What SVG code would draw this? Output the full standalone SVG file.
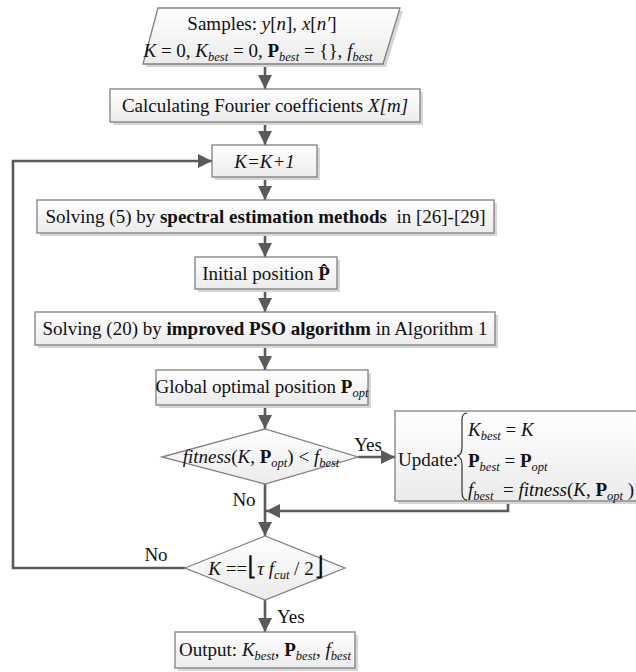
<svg xmlns="http://www.w3.org/2000/svg" width="636" height="672" viewBox="0 0 636 672">
<style>
.t{font-family:"Liberation Serif","Times New Roman",serif;font-size:19px;fill:#111}
.i{font-style:italic}
.b{font-weight:bold}
.s{font-style:italic;font-size:12.5px}
.box{fill:url(#g);stroke:#808080;stroke-width:1.3}
.sh{fill:#d6d6d6}
.c{fill:none;stroke:#5a5a5a;stroke-width:2.6}
</style>
<defs>
<linearGradient id="g" x1="0" y1="0" x2="0" y2="1">
<stop offset="0" stop-color="#ffffff"/>
<stop offset="1" stop-color="#ebebeb"/>
</linearGradient>
<marker id="a" markerUnits="userSpaceOnUse" markerWidth="15" markerHeight="14" refX="14" refY="7" orient="auto">
<path d="M0,0 L14,7 L0,14 z" fill="#5a5a5a"/>
</marker>
</defs>

<g id="connectors">
<path class="c" d="M265,64 V89" marker-end="url(#a)"/>
<path class="c" d="M265,122 V145" marker-end="url(#a)"/>
<path class="c" d="M265,177 V200" marker-end="url(#a)"/>
<path class="c" d="M265,233 V257" marker-end="url(#a)"/>
<path class="c" d="M265,289 V312" marker-end="url(#a)"/>
<path class="c" d="M265,345 V370" marker-end="url(#a)"/>
<path class="c" d="M265,405 V429" marker-end="url(#a)"/>
<path class="c" d="M358,457 H395" marker-end="url(#a)"/>
<path class="c" d="M265,484 V536" marker-end="url(#a)"/>
<path class="c" d="M508,501 V511 H266" marker-end="url(#a)"/>
<path class="c" d="M185,568 H13 V161 H212" marker-end="url(#a)"/>
<path class="c" d="M265,600 V632" marker-end="url(#a)"/>
<text class="t" x="368" y="451" text-anchor="middle">Yes</text>
<text class="t" x="244" y="506" text-anchor="middle">No</text>
<text class="t" x="156" y="561" text-anchor="middle">No</text>
<text class="t" x="277" y="623">Yes</text>
</g>

<g id="start">
<polygon class="sh" points="161,11 403,11 386,67 146,67"/>
<polygon class="box" points="158,8 400,8 383,64 143,64"/>
<text class="t" x="262" y="30" text-anchor="middle">Samples: <tspan class="i">y</tspan>[<tspan class="i">n</tspan>], <tspan class="i">x</tspan>[<tspan class="i">n′</tspan>]</text>
<text class="t" x="258" y="57" text-anchor="middle"><tspan class="i">K</tspan> = 0, <tspan class="i">K</tspan><tspan class="s" dy="4">best</tspan><tspan dy="-4"> = 0, </tspan><tspan class="b">P</tspan><tspan class="s" dy="4">best</tspan><tspan dy="-4"> = {}, </tspan><tspan class="i">f</tspan><tspan class="s" dy="4">best</tspan></text>
</g>

<g id="fourier">
<rect class="sh" x="113" y="92" width="310" height="33"/>
<rect class="box" x="110" y="89" width="310" height="33"/>
<text class="t" x="265" y="112" text-anchor="middle">Calculating Fourier coefficients <tspan class="i">X[m]</tspan></text>
</g>

<g id="increment">
<rect class="sh" x="215" y="148" width="105" height="32"/>
<rect class="box" x="212" y="145" width="105" height="32"/>
<text class="t i" x="264.5" y="168" text-anchor="middle">K=K+1</text>
</g>

<g id="spectral">
<rect class="sh" x="40" y="203" width="457" height="33"/>
<rect class="box" x="37" y="200" width="457" height="33"/>
<text class="t" x="265.5" y="223" text-anchor="middle">Solving (5) by <tspan class="b">spectral estimation methods</tspan>&#160; in [26]-[29]</text>
</g>

<g id="initial">
<rect class="sh" x="198" y="260" width="142" height="32"/>
<rect class="box" x="195" y="257" width="142" height="32"/>
<text class="t" x="266" y="280" text-anchor="middle">Initial position <tspan class="b">P̂</tspan></text>
</g>

<g id="pso">
<rect class="sh" x="38" y="315" width="460" height="33"/>
<rect class="box" x="35" y="312" width="460" height="33"/>
<text class="t" x="265" y="335" text-anchor="middle">Solving (20) by <tspan class="b">improved PSO algorithm</tspan> in Algorithm 1</text>
</g>

<g id="global">
<rect class="sh" x="159" y="373" width="212" height="35"/>
<rect class="box" x="156" y="370" width="212" height="35"/>
<text class="t" x="262" y="393" text-anchor="middle">Global optimal position <tspan class="b">P</tspan><tspan class="s" dy="4">opt</tspan></text>
</g>

<g id="fitness-check">
<polygon class="box" points="162,457 265,429 358,457 265,484"/>
<text class="t" x="261" y="463" text-anchor="middle"><tspan class="i">fitness</tspan>(<tspan class="i">K</tspan>, <tspan class="b">P</tspan><tspan class="s" dy="4">opt</tspan><tspan dy="-4">) &lt; </tspan><tspan class="i">f</tspan><tspan class="s" dy="4">best</tspan></text>
</g>

<g id="update">
<rect class="sh" x="398" y="414" width="244" height="90"/>
<rect class="box" x="395" y="411" width="244" height="90"/>
<text class="t" x="398" y="466">Update:</text>
<path d="M467,413 q-5,0 -5,7 v27 q0,8 -5,9 q5,1 5,9 v27 q0,8 5,8" fill="none" stroke="#222" stroke-width="1.1"/>
<text class="t" x="468" y="436"><tspan class="i">K</tspan><tspan class="s" dy="4">best</tspan><tspan dy="-4">&#160;= </tspan><tspan class="i">K</tspan></text>
<text class="t" x="468" y="467"><tspan class="b">P</tspan><tspan class="s" dy="4">best</tspan><tspan dy="-4">&#160;= </tspan><tspan class="b">P</tspan><tspan class="s" dy="4">opt</tspan></text>
<text class="t" x="468" y="496"><tspan class="i">f</tspan><tspan class="s" dy="4">best</tspan><tspan dy="-4">&#160;&#160;= </tspan><tspan class="i">fitness</tspan>(<tspan class="i">K</tspan>,&#160;<tspan class="b">P</tspan><tspan class="s" dy="4">opt</tspan><tspan dy="-4">&#160;)</tspan></text>
</g>

<g id="loop-check">
<polygon class="box" points="185,568 265,536 345,568 265,600"/>
<text class="t" x="266" y="575" text-anchor="middle"><tspan class="i">K</tspan> ==<tspan font-size="26">⌊</tspan><tspan class="i">τ f</tspan><tspan class="s" dy="4">cut</tspan><tspan dy="-4"> / 2</tspan><tspan font-size="26">⌋</tspan></text>
</g>

<g id="output">
<rect class="sh" x="178" y="635" width="180" height="36"/>
<rect class="box" x="175" y="632" width="180" height="36"/>
<text class="t" x="265" y="656" text-anchor="middle">Output: <tspan class="i">K</tspan><tspan class="s" dy="4">best</tspan><tspan dy="-4">, </tspan><tspan class="b">P</tspan><tspan class="s" dy="4">best</tspan><tspan dy="-4">, </tspan><tspan class="i">f</tspan><tspan class="s" dy="4">best</tspan></text>
</g>
</svg>
